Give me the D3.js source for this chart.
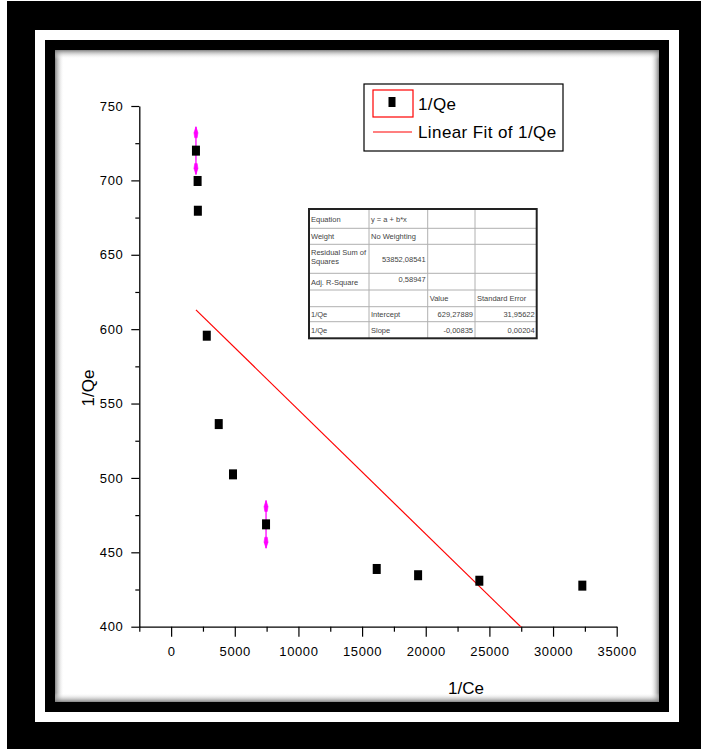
<!DOCTYPE html>
<html>
<head>
<meta charset="utf-8">
<script src="https://cdn.jsdelivr.net/npm/d3@7"></script>
<style>
  body { margin: 0; background: #fff; }
  svg { display: block; font-family: "Liberation Sans", Arial, sans-serif; }
</style>
</head>
<body>
<svg id="chart" width="701" height="749"></svg>
<script>
// data
const ceValues = [1950, 2080, 2100, 2800, 3740, 4860, 7455, 16150, 19400, 24210, 32300];
const qeValues = [720, 699.6, 679.6, 595.6, 536.2, 502.4, 468.8, 438.8, 434.6, 430.9, 427.6];
const errValues = [16, 0, 0, 0, 0, 0, 16, 0, 0, 0, 0];
const fitIntercept = 629.27889;
const fitSlope = -0.00835;
const xMajorTicks = [0, 5000, 10000, 15000, 20000, 25000, 30000, 35000];
const xMinorTicks = [-2500, 2500, 7500, 12500, 17500, 22500, 27500, 32500];
const yMajorTicks = [400, 450, 500, 550, 600, 650, 700, 750];
const yMinorTicks = [425, 475, 525, 575, 625, 675, 725];
const legendLabels = ['1/Qe', 'Linear Fit of 1/Qe'];
const tableRows = [
  ['Equation', 'y = a + b*x', '', ''],
  ['Weight', 'No Weighting', '', ''],
  ['Residual Sum of|Squares', '53852,08541', '', ''],
  ['Adj. R-Square', '0,58947', '', ''],
  ['', '', 'Value', 'Standard Error'],
  ['1/Qe', 'Intercept', '629,27889', '31,95622'],
  ['1/Qe', 'Slope', '-0,00835', '0,00204']
];

const svg = d3.select('#chart');

// frame
svg.append('rect').attr('x', 7).attr('y', 1).attr('width', 694).attr('height', 748).attr('fill', '#000');
svg.append('rect').attr('x', 35).attr('y', 30).attr('width', 644).attr('height', 692).attr('fill', '#fff');
svg.append('rect').attr('x', 45).attr('y', 40).attr('width', 624).attr('height', 672).attr('fill', '#000');
svg.append('rect').attr('x', 55).attr('y', 50).attr('width', 604).attr('height', 652).attr('fill', '#fff');

// inner shadow of the panel
const defs = svg.append('defs');
const shades = [
  { id: 'sh-l', x1: 0, y1: 0, x2: 1, y2: 0 },
  { id: 'sh-r', x1: 1, y1: 0, x2: 0, y2: 0 },
  { id: 'sh-t', x1: 0, y1: 0, x2: 0, y2: 1 },
  { id: 'sh-b', x1: 0, y1: 1, x2: 0, y2: 0 }
];
shades.forEach(s => {
  const g = defs.append('linearGradient').attr('id', s.id)
    .attr('x1', s.x1).attr('y1', s.y1).attr('x2', s.x2).attr('y2', s.y2);
  g.append('stop').attr('offset', '0%').attr('stop-color', '#777').attr('stop-opacity', 0.9);
  g.append('stop').attr('offset', '100%').attr('stop-color', '#fff').attr('stop-opacity', 0);
});
const sw = 9;
svg.append('rect').attr('x', 55).attr('y', 50).attr('width', sw).attr('height', 652).attr('fill', 'url(#sh-l)');
svg.append('rect').attr('x', 659 - sw).attr('y', 50).attr('width', sw).attr('height', 652).attr('fill', 'url(#sh-r)');
svg.append('rect').attr('x', 55).attr('y', 50).attr('width', 604).attr('height', sw).attr('fill', 'url(#sh-t)');
svg.append('rect').attr('x', 55).attr('y', 702 - sw).attr('width', 604).attr('height', sw).attr('fill', 'url(#sh-b)');

// scales
const x = d3.scaleLinear().domain([-2500, 35000]).range([139.3, 616.7]);
const y = d3.scaleLinear().domain([400, 750]).range([626.7, 106]);

defs.append('clipPath').attr('id', 'plot-clip')
  .append('rect').attr('x', 139.3).attr('y', 106).attr('width', 477.4).attr('height', 520.7);

// axes
const styleAxis = g => {
  g.select('.domain').attr('stroke', '#000').attr('stroke-width', 1.3);
  g.selectAll('.tick line').attr('stroke', '#000').attr('stroke-width', 1.2);
  g.selectAll('.tick text').attr('fill', '#000').style('font-size', '13px').style('letter-spacing', '0.6px');
};

svg.append('g').attr('transform', 'translate(0,626.7)')
  .call(d3.axisBottom(x).tickValues(xMinorTicks).tickSize(5).tickFormat(''))
  .call(g => g.select('.domain').remove())
  .call(styleAxis);
svg.append('g').attr('transform', 'translate(0,626.7)')
  .call(d3.axisBottom(x).tickValues(xMajorTicks).tickSize(10).tickSizeOuter(0).tickPadding(10).tickFormat(d3.format('d')))
  .call(styleAxis);

svg.append('g').attr('transform', 'translate(139.3,0)')
  .call(d3.axisLeft(y).tickValues(yMinorTicks).tickSize(4).tickFormat(''))
  .call(g => g.select('.domain').remove())
  .call(styleAxis);
svg.append('g').attr('transform', 'translate(139.3,0)')
  .call(d3.axisLeft(y).tickValues(yMajorTicks).tickSize(8).tickSizeOuter(0).tickPadding(8).tickFormat(d3.format('d')))
  .call(styleAxis);

// axis titles
svg.append('text').attr('x', 466).attr('y', 694).attr('text-anchor', 'middle')
  .style('font-size', '17px').text('1/Ce');
svg.append('text').attr('transform', 'translate(94,388) rotate(-90)').attr('text-anchor', 'middle')
  .style('font-size', '17px').text('1/Qe');

// fit line
const fitX = d3.extent(ceValues);
svg.append('line').attr('clip-path', 'url(#plot-clip)')
  .attr('x1', x(fitX[0])).attr('y1', y(fitIntercept + fitSlope * fitX[0]))
  .attr('x2', x(fitX[1])).attr('y2', y(fitIntercept + fitSlope * fitX[1]))
  .attr('stroke', '#ff0000').attr('stroke-width', 1.2);

const points = ceValues.map((c, i) => ({ c, q: qeValues[i], e: errValues[i] }));

// error bars
const errG = svg.append('g').attr('fill', '#ff00ff').attr('stroke', '#ff00ff');
points.filter(d => d.e > 0).forEach(d => {
  const cx = x(d.c), top = y(d.q + d.e), bot = y(d.q - d.e);
  errG.append('line').attr('x1', cx).attr('x2', cx).attr('y1', top).attr('y2', bot).attr('stroke-width', 1.3);
  errG.append('path').attr('stroke-width', 0.6)
    .attr('d', `M${cx},${top} L${cx + 2},${top + 6} L${cx + 1.2},${top + 11} L${cx - 1.2},${top + 11} L${cx - 2},${top + 6} Z`);
  errG.append('path').attr('stroke-width', 0.6)
    .attr('d', `M${cx},${bot} L${cx + 2},${bot - 6} L${cx + 1.2},${bot - 11} L${cx - 1.2},${bot - 11} L${cx - 2},${bot - 6} Z`);
});

// markers
svg.append('g').selectAll('rect')
  .data(points)
  .join('rect')
  .attr('x', d => x(d.c) - 4)
  .attr('y', d => y(d.q) - 5)
  .attr('width', 8)
  .attr('height', 10)
  .attr('fill', '#000');

// legend
const leg = svg.append('g');
leg.append('rect').attr('x', 364).attr('y', 84).attr('width', 199).attr('height', 67)
  .attr('fill', '#fff').attr('stroke', '#000').attr('stroke-width', 1.2);
leg.append('rect').attr('x', 373).attr('y', 90).attr('width', 40).attr('height', 27)
  .attr('fill', 'none').attr('stroke', '#ff0000').attr('stroke-width', 1.2);
leg.append('rect').attr('x', 388.5).attr('y', 97).attr('width', 7).attr('height', 10).attr('fill', '#000');
leg.append('line').attr('x1', 373).attr('x2', 412).attr('y1', 132).attr('y2', 132)
  .attr('stroke', '#ff0000').attr('stroke-width', 1.2);
leg.selectAll('text.lab')
  .data(legendLabels)
  .join('text')
  .attr('class', 'lab')
  .attr('x', 418)
  .attr('y', (d, i) => 110 + i * 28)
  .style('font-size', '17px')
  .style('letter-spacing', '0.4px')
  .text(d => d);

// fit results table
const colX = [309, 369, 427.7, 475, 536.7];
const rowY = [209, 228.3, 244.3, 273.3, 290, 306.7, 321.7, 338.3];
const tbl = svg.append('g');
tbl.append('rect').attr('x', colX[0]).attr('y', rowY[0])
  .attr('width', colX[4] - colX[0]).attr('height', rowY[7] - rowY[0]).attr('fill', '#fff');
rowY.slice(1, -1).forEach(ry => {
  tbl.append('line').attr('x1', colX[0]).attr('x2', colX[4]).attr('y1', ry).attr('y2', ry)
    .attr('stroke', '#b0b0b0').attr('stroke-width', 1);
});
colX.slice(1, -1).forEach(cx => {
  tbl.append('line').attr('x1', cx).attr('x2', cx).attr('y1', rowY[0]).attr('y2', rowY[7])
    .attr('stroke', '#b0b0b0').attr('stroke-width', 1);
});
tbl.append('rect').attr('x', colX[0]).attr('y', rowY[0])
  .attr('width', colX[4] - colX[0]).attr('height', rowY[7] - rowY[0])
  .attr('fill', 'none').attr('stroke', '#222').attr('stroke-width', 2);

const numeric = /^-?[0-9]/;
tableRows.forEach((row, r) => {
  row.forEach((cell, c) => {
    if (!cell) return;
    const lines = cell.split('|');
    const right = c > 0 && numeric.test(cell);
    const baseY = lines.length > 1 ? rowY[r] + 11 : (rowY[r] + rowY[r + 1]) / 2 + 3;
    lines.forEach((ln, k) => {
      tbl.append('text')
        .attr('x', right ? colX[c + 1] - 2 : colX[c] + 2)
        .attr('y', baseY + k * 9 - (right && r === 3 ? 3 : 0))
        .attr('text-anchor', right ? 'end' : 'start')
        .attr('fill', '#444')
        .style('font-size', '7.5px')
        .text(ln);
    });
  });
});
</script>
</body>
</html>
